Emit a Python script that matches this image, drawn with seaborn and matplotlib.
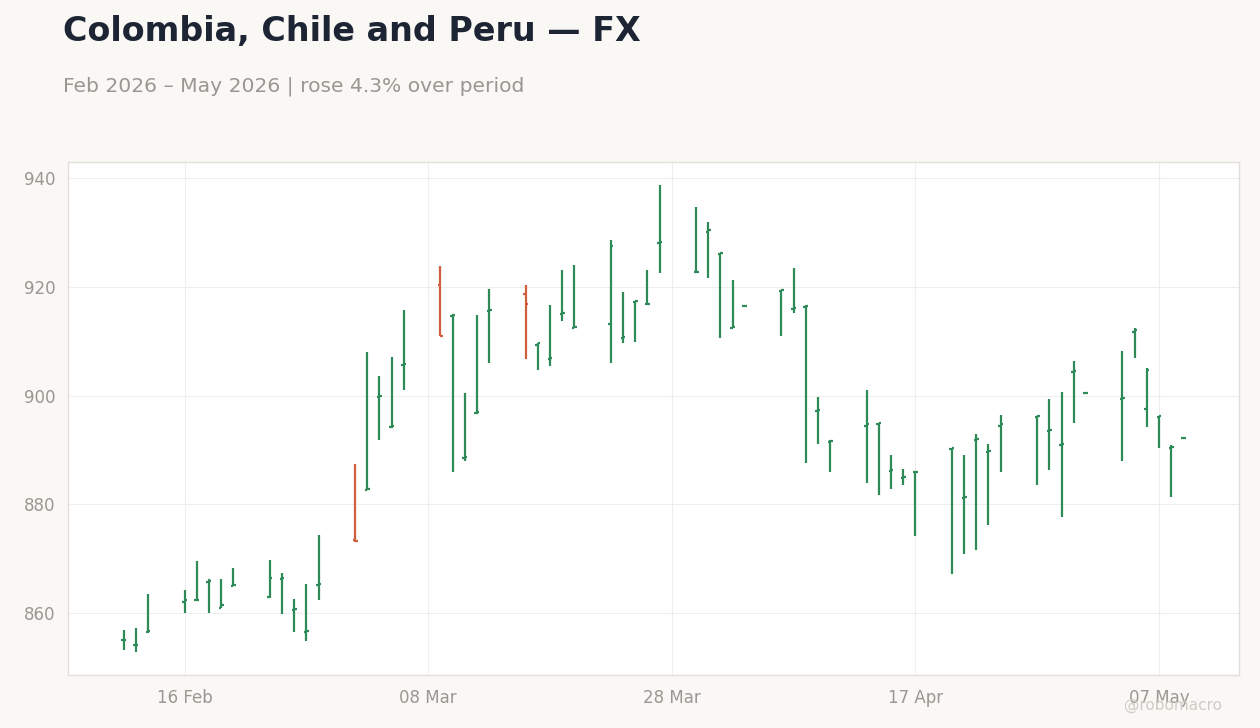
import matplotlib
matplotlib.use("Agg")
import matplotlib.pyplot as plt
import matplotlib.dates as mdates
import seaborn as sns
import pandas as pd
import numpy as np


#%% data

dates = list(pd.bdate_range("2026-02-11", "2026-05-08")) + [pd.Timestamp("2026-05-09")]

opens = [855.0, 854.1, 856.5, 862.1, 862.4, 865.7, 861.0, 865.0, 862.9, 866.3,
         860.5, 856.5, 865.1, 873.5, 882.7, 899.8, 894.2, 905.7, 920.3, 914.7,
         888.5, 896.8, 915.6, 918.7, 909.4, 906.8, 915.1, 912.5, 913.2, 910.6,
         917.3, 916.8, 928.0, 922.7, 930.2, 926.1, 912.5, 916.5, 919.3, 916.0,
         916.4, 897.1, 891.5, 894.5, 894.8, 886.1, 884.8, 885.9, 890.2, 881.2,
         891.9, 889.6, 894.5, 896.1, 893.5, 890.9, 904.4, 900.5, 899.3, 911.8,
         897.6, 896.1, 890.4, 892.3]
highs = [856.9, 857.2, 863.5, 864.2, 869.6, 866.3, 866.3, 868.3, 869.8, 867.4,
         862.6, 865.4, 874.4, 887.5, 908.1, 903.7, 907.2, 915.7, 923.8, 915.0,
         900.5, 914.9, 919.7, 920.3, 909.7, 916.6, 923.2, 924.1, 928.6, 919.0,
         917.5, 923.2, 938.7, 934.7, 931.9, 926.3, 921.3, 916.6, 919.5, 923.4,
         916.6, 899.8, 891.8, 901.1, 895.0, 889.1, 886.5, 886.1, 890.4, 889.1,
         893.0, 891.2, 896.5, 896.3, 899.4, 900.6, 906.3, 900.6, 908.3, 912.5,
         905.0, 896.3, 890.9, 892.4]
lows = [853.2, 852.9, 856.3, 860.1, 862.2, 860.1, 860.9, 864.9, 862.8, 859.9,
        856.6, 854.8, 862.4, 873.1, 882.6, 891.9, 894.0, 901.0, 910.9, 886.0,
        887.9, 896.6, 906.1, 906.7, 904.7, 905.4, 913.7, 912.4, 906.0, 909.7,
        909.8, 916.7, 922.6, 922.6, 921.6, 910.6, 912.4, 916.4, 910.9, 915.2,
        887.7, 891.2, 885.9, 883.9, 881.8, 882.9, 883.6, 874.1, 867.1, 870.9,
        871.6, 876.2, 885.9, 883.6, 886.4, 877.6, 894.9, 900.4, 887.9, 906.9,
        894.3, 890.3, 881.3, 892.2]
closes = [855.1, 854.2, 856.7, 862.5, 862.5, 865.9, 861.5, 865.2, 866.4, 866.5,
          860.7, 856.7, 865.3, 873.2, 882.9, 900.0, 894.4, 905.9, 911.0, 914.8,
          888.7, 897.0, 915.8, 916.8, 909.6, 907.0, 915.3, 912.6, 927.5, 910.8,
          917.5, 916.9, 928.2, 922.8, 930.4, 926.2, 912.6, 916.5, 919.4, 916.2,
          916.5, 897.3, 891.7, 894.7, 894.9, 886.3, 885.0, 886.0, 890.3, 881.4,
          892.1, 889.8, 894.7, 896.2, 893.7, 891.1, 904.6, 900.5, 899.5, 912.0,
          904.8, 896.2, 890.6, 892.3]

tick_dates = ["2026-02-16", "2026-03-08", "2026-03-28", "2026-04-17", "2026-05-07"]
tick_labels = ["16 Feb", "08 Mar", "28 Mar", "17 Apr", "07 May"]

title = "Colombia, Chile and Peru \u2014 FX"
subtitle = "Feb 2026 \u2013 May 2026 | rose 4.3% over period"


#%% plotting

up_col = "#2e8b57"
down_col = "#cf5f3e"
bg_col = "#f9f8f5"

sns.set_theme(style="whitegrid")
plt.rcParams['font.family'] = ['DejaVu Sans']

df = pd.DataFrame({'date': dates, 'open': opens, 'high': highs, 'low': lows, 'close': closes})
df['x'] = mdates.date2num(df['date'])
df['colour'] = np.where(df['close'] >= df['open'], up_col, down_col)

fig = plt.figure(figsize=(12.6, 7.28), dpi=100, facecolor=bg_col)
ax = fig.add_axes([68/1260, 53/728, 1171/1260, 513/728])
ax.set_facecolor("white")

tw = 0.2
ax.vlines(df['x'], df['low'], df['high'], colors=df['colour'], linewidth=1.6)
ax.hlines(df['open'], df['x'] - tw, df['x'], colors=df['colour'], linewidth=1.6)
ax.hlines(df['close'], df['x'], df['x'] + tw, colors=df['colour'], linewidth=1.6)

ax.set_xticks(mdates.date2num(pd.to_datetime(tick_dates)))
ax.set_xticklabels(tick_labels)
ax.set_yticks([860, 880, 900, 920, 940])

ax.grid(True, color="#eeeeee", linewidth=0.8)
ax.tick_params(axis='both', length=0, labelsize=12, labelcolor="#9a9792")
ax.tick_params(axis='x', pad=10)
ax.tick_params(axis='y', pad=9)
for s in ax.spines.values():
    s.set_color("#e2dfda")
    s.set_linewidth(1.0)
ax.set_xlabel("")
ax.set_ylabel("")

fig.text(63/1260, 1 - 31/728, title, fontsize=24, fontweight='bold', color="#1d2535", va='center', ha='left')
fig.text(63/1260, 1 - 86/728, subtitle, fontsize=14.6, color="#9a9792", va='center', ha='left')
fig.text(1222/1260, 1 - 705/728, "@robomacro", fontsize=11, color="#cfccc7", va='center', ha='right')

fig.savefig("out.png", dpi=100, facecolor=bg_col)
